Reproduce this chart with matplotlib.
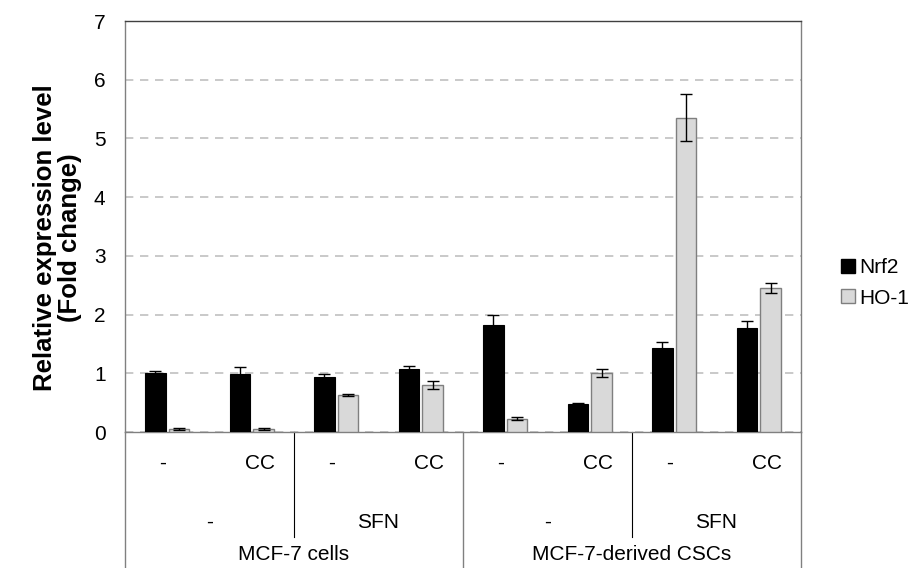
import matplotlib
import matplotlib.pyplot as plt
from matplotlib.patches import Patch

matplotlib.rcParams["font.family"] = ["Liberation Sans", "DejaVu Sans"]
matplotlib.rcParams["font.size"] = 14

treatment = ["-", "CC", "-", "CC", "-", "CC", "-", "CC"]
sfn = ["-", "SFN", "-", "SFN"]
cells = ["MCF-7 cells", "MCF-7-derived CSCs"]

nrf2 = [1.00, 0.98, 0.93, 1.07, 1.83, 0.48, 1.43, 1.77]
nrf2_err = [0.04, 0.12, 0.05, 0.05, 0.17, 0.02, 0.10, 0.12]
ho1 = [0.05, 0.05, 0.63, 0.80, 0.23, 1.00, 5.35, 2.45]
ho1_err = [0.01, 0.02, 0.02, 0.07, 0.03, 0.07, 0.40, 0.08]

fig = plt.figure(figsize=(9.11, 5.68), dpi=100)
ax = fig.add_axes([0.1372, 0.2394, 0.742, 0.7236])

x = range(len(treatment))
w = 0.24
off = 0.14

ax.bar([i - off for i in x], nrf2, w, color="black", edgecolor="black",
       linewidth=0.8, zorder=3)
ax.bar([i + off for i in x], ho1, w, color="#d9d9d9", edgecolor="#7f7f7f",
       linewidth=1.0, zorder=3)
ax.errorbar([i - off for i in x], nrf2, yerr=nrf2_err, fmt="none",
            ecolor="black", elinewidth=1, capsize=4, capthick=1, zorder=4)
ax.errorbar([i + off for i in x], ho1, yerr=ho1_err, fmt="none",
            ecolor="black", elinewidth=1, capsize=4, capthick=1, zorder=4)

ax.set_xlim(-0.5, len(treatment) - 0.5)
ax.set_ylim(0, 7)
ax.set_yticks(range(0, 8))
ax.yaxis.grid(True, linestyle=(0, (5, 4)), color="#c0c0c0", linewidth=1.2)
ax.set_axisbelow(True)
ax.tick_params(axis="y", length=0, pad=14, labelsize=15, colors="black")
ax.set_xticks([])
for s in ax.spines.values():
    s.set_color("#808080")
    s.set_linewidth(1.0)
ax.spines["top"].set_color("#404040")

# multi-level category axis
tr = ax.get_xaxis_transform()
ybot = -0.331
lk = dict(color="#808080", linewidth=1.0, transform=tr, clip_on=False)
ax.plot([-0.5, -0.5], [0, ybot], **lk)
ax.plot([7.5, 7.5], [0, ybot], **lk)
ax.plot([3.5, 3.5], [0, ybot], **lk)
ax.plot([1.5, 1.5], [0, -0.255], color="black", linewidth=0.8,
        transform=tr, clip_on=False)
ax.plot([5.5, 5.5], [0, -0.255], color="black", linewidth=0.8,
        transform=tr, clip_on=False)

for i, t in enumerate(treatment):
    shift = 0.1 if t == "CC" else -0.05
    ax.text(i + shift, -0.0754, t, transform=tr, ha="center", va="center",
            fontsize=15)
for i, t in enumerate(sfn):
    ax.text(2 * i + 0.5, -0.219, t, transform=tr, ha="center", va="center",
            fontsize=15)
for i, t in enumerate(cells):
    ax.text(4 * i + 1.5, -0.297, t, transform=tr, ha="center", va="center",
            fontsize=15)

fig.text(57.5 / 911, 1 - 238 / 568, "Relative expression level\n(Fold change)",
         rotation=90, ha="center", va="center", fontsize=18.5,
         fontweight="bold", linespacing=1.0)

handles = [Patch(facecolor="black", edgecolor="black", label="Nrf2"),
           Patch(facecolor="#d9d9d9", edgecolor="#7f7f7f", label="HO-1")]
fig.legend(handles=handles, loc="center left",
           bbox_to_anchor=(833 / 911, 1 - 283 / 568), frameon=False,
           fontsize=15, handlelength=0.65, handleheight=0.65,
           handletextpad=0.2, labelspacing=0.55, borderaxespad=0)

fig.savefig("out.png", dpi=100)
